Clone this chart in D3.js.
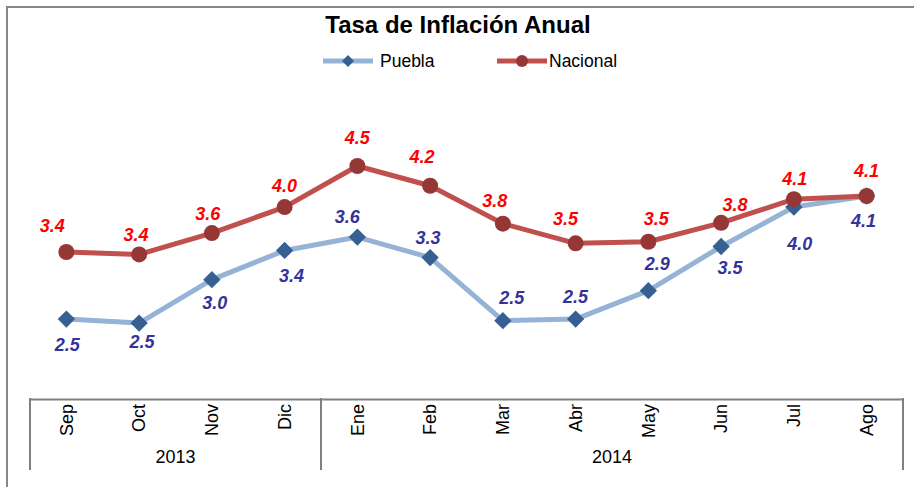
<!DOCTYPE html>
<html>
<head>
<meta charset="utf-8">
<script src="https://cdn.jsdelivr.net/npm/d3@7"></script>
<style>
  body { margin: 0; background: #fff; }
  text { font-family: "Liberation Sans", Arial, sans-serif; }
</style>
</head>
<body>
<script>
var months = ['Sep', 'Oct', 'Nov', 'Dic', 'Ene', 'Feb', 'Mar', 'Abr', 'May', 'Jun', 'Jul', 'Ago'];
var monthYear = ['2013', '2013', '2013', '2013', '2014', '2014', '2014', '2014', '2014', '2014', '2014', '2014'];
var puebla = [2.54, 2.49, 3.04, 3.41, 3.58, 3.32, 2.52, 2.54, 2.90, 3.46, 3.96, 4.10];
var nacional = [3.39, 3.36, 3.63, 3.96, 4.48, 4.23, 3.75, 3.50, 3.52, 3.76, 4.06, 4.10];

// label nudges (dx, dy from the point), as placed in the original sheet
var pueblaLabelPos = [[1, 32], [3, 25], [3, 29], [7, 32], [-10, -14], [-2, -14], [9, -17], [0, -16], [9, -21], [9, 27], [6, 43], [-3, 31]];
var nacionalLabelPos = [[-14, -20], [-3, -13], [-4, -13], [0, -15], [0, -22], [-8, -23], [-8, -17], [-10, -18], [8, -17], [14, -12], [1, -14], [0, -19]];

var width = 914, height = 487;

var svg = d3.select('body').append('svg')
    .attr('width', width)
    .attr('height', height);

// outer chart frame (runs off the right and bottom edge)
svg.append('rect')
    .attr('x', 7)
    .attr('y', 7)
    .attr('width', 1000)
    .attr('height', 1000)
    .attr('fill', '#fff')
    .attr('stroke', '#868686')
    .attr('stroke-width', 2);

var plot = { left: 30, right: 903, axisY: 399 };

var x = d3.scaleBand()
    .domain(months)
    .range([plot.left, plot.right])
    .padding(0);

var y = d3.scaleLinear()
    .domain([2, 5])
    .range([361.7, 125]);

function cx(d, i) { return x(months[i]) + x.bandwidth() / 2; }

var fmt = d3.format('.1f');

svg.append('text')
    .attr('x', 458)
    .attr('y', 33)
    .attr('text-anchor', 'middle')
    .style('font-size', '24px')
    .style('font-weight', 'bold')
    .text('Tasa de Inflación Anual');

// axis
var axis = svg.append('g')
    .attr('transform', 'translate(0,' + plot.axisY + ')')
    .call(d3.axisBottom(x).tickSize(0).tickSizeOuter(0));

axis.select('.domain')
    .attr('stroke', '#808080')
    .attr('stroke-width', 2);

axis.selectAll('.tick text')
    .attr('transform', 'rotate(-90)')
    .attr('x', -5)
    .attr('y', 0)
    .attr('dy', '0.35em')
    .attr('text-anchor', 'end')
    .attr('fill', '#000')
    .style('font-size', '18px')
    .style('font-family', '"Liberation Sans", Arial, sans-serif');

var yearGroups = d3.groups(months.map(function (m, i) { return { m: m, year: monthYear[i] }; }), function (d) { return d.year; });

var edges = [plot.left];
yearGroups.forEach(function (g) {
    var last = g[1][g[1].length - 1].m;
    edges.push(x(last) + x.bandwidth());
});

svg.selectAll('.sep')
    .data(edges)
    .enter().append('line')
    .attr('class', 'sep')
    .attr('x1', function (d) { return d; })
    .attr('x2', function (d) { return d; })
    .attr('y1', plot.axisY - 1)
    .attr('y2', 470)
    .attr('stroke', '#808080')
    .attr('stroke-width', 2);

svg.selectAll('.year')
    .data(yearGroups)
    .enter().append('text')
    .attr('class', 'year')
    .attr('x', function (g) {
        var first = g[1][0].m, last = g[1][g[1].length - 1].m;
        return (x(first) + x(last) + x.bandwidth()) / 2;
    })
    .attr('y', 463)
    .attr('text-anchor', 'middle')
    .style('font-size', '18px')
    .text(function (g) { return g[0]; });

// series
var line = d3.line()
    .x(cx)
    .y(function (d) { return y(d); });

svg.append('path')
    .datum(puebla)
    .attr('fill', 'none')
    .attr('stroke', '#95B3D7')
    .attr('stroke-width', 5)
    .attr('stroke-linejoin', 'round')
    .attr('d', line);

svg.append('path')
    .datum(nacional)
    .attr('fill', 'none')
    .attr('stroke', '#C0504D')
    .attr('stroke-width', 5)
    .attr('stroke-linejoin', 'round')
    .attr('d', line);

svg.selectAll('.pm')
    .data(puebla)
    .enter().append('path')
    .attr('class', 'pm')
    .attr('transform', function (d, i) { return 'translate(' + cx(d, i) + ',' + y(d) + ') rotate(45)'; })
    .attr('d', d3.symbol().type(d3.symbolSquare).size(150))
    .attr('fill', '#376092');

svg.selectAll('.nm')
    .data(nacional)
    .enter().append('circle')
    .attr('class', 'nm')
    .attr('cx', cx)
    .attr('cy', function (d) { return y(d); })
    .attr('r', 8)
    .attr('fill', '#953735');

// data labels
svg.selectAll('.pl')
    .data(puebla)
    .enter().append('text')
    .attr('class', 'pl')
    .attr('x', function (d, i) { return cx(d, i) + pueblaLabelPos[i][0]; })
    .attr('y', function (d, i) { return y(d) + pueblaLabelPos[i][1]; })
    .attr('text-anchor', 'middle')
    .attr('fill', '#333399')
    .style('font-size', '18px')
    .style('font-weight', 'bold')
    .style('font-style', 'italic')
    .text(fmt);

svg.selectAll('.nl')
    .data(nacional)
    .enter().append('text')
    .attr('class', 'nl')
    .attr('x', function (d, i) { return cx(d, i) + nacionalLabelPos[i][0]; })
    .attr('y', function (d, i) { return y(d) + nacionalLabelPos[i][1]; })
    .attr('text-anchor', 'middle')
    .attr('fill', '#FF0000')
    .style('font-size', '18px')
    .style('font-weight', 'bold')
    .style('font-style', 'italic')
    .text(fmt);

// legend
var legend = svg.append('g').attr('transform', 'translate(0,61)');

var lp = legend.append('g').attr('transform', 'translate(323,0)');
lp.append('line').attr('x1', 0).attr('x2', 50).attr('stroke', '#95B3D7').attr('stroke-width', 5);
lp.append('path')
    .attr('transform', 'translate(25,0) rotate(45)')
    .attr('d', d3.symbol().type(d3.symbolSquare).size(72))
    .attr('fill', '#376092');
lp.append('text').attr('x', 57).attr('y', 6).style('font-size', '17.5px').text('Puebla');

var ln = legend.append('g').attr('transform', 'translate(497,0)');
ln.append('line').attr('x1', 0).attr('x2', 50).attr('stroke', '#C0504D').attr('stroke-width', 5);
ln.append('circle').attr('cx', 25).attr('r', 6).attr('fill', '#953735');
ln.append('text').attr('x', 52).attr('y', 6).style('font-size', '17.5px').text('Nacional');
</script>
</body>
</html>
